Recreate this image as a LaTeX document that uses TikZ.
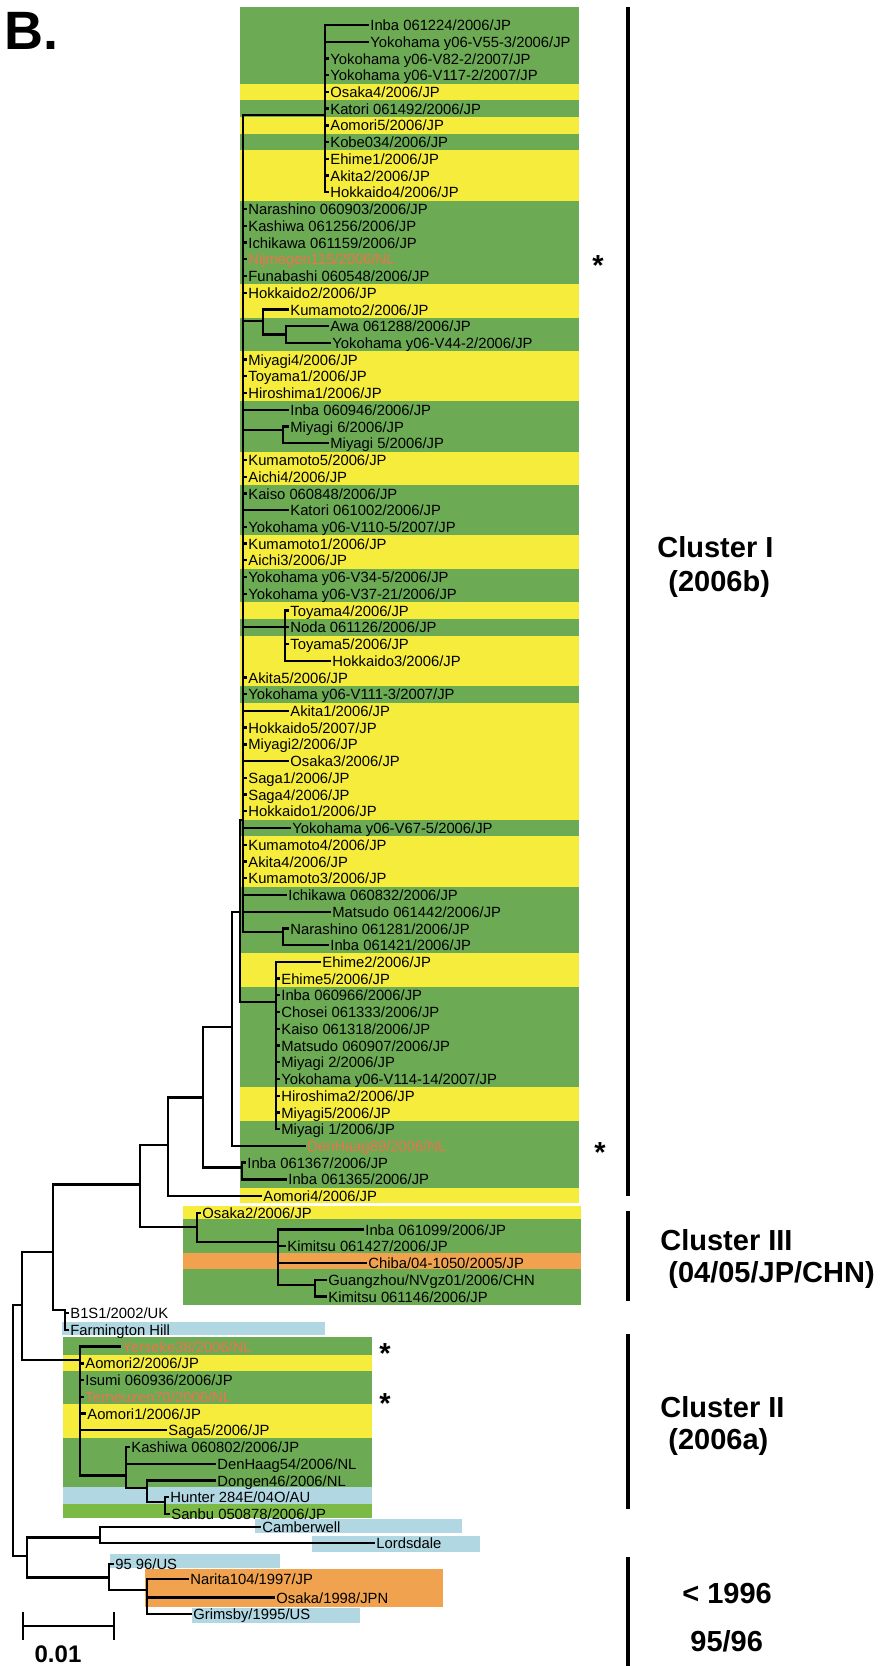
\documentclass[tikz,border=0pt]{standalone}
\usepackage{fontspec}
\setmainfont{Liberation Sans}
\usetikzlibrary{positioning}

\definecolor{clgreen}{RGB}{108,170,84}
\definecolor{clyellow}{RGB}{245,236,60}
\definecolor{clorange}{RGB}{240,162,78}
\definecolor{clblue}{RGB}{176,215,226}
\definecolor{clbright}{RGB}{124,186,70}
\definecolor{nlred}{RGB}{234,116,78}

\begin{document}
\begin{tikzpicture}[
  x=0.5pt, y=-8.365pt,
  leaf/.style={anchor=west, inner xsep=1pt, inner ysep=0pt, text height=5.6pt, text depth=0pt, font=\fontsize{7.4}{8}\selectfont},
  nlleaf/.style={leaf, text=nlred},
  branch/.style={line width=1.15pt, line cap=rect},
  clbar/.style={line width=1.8pt},
  clabel/.style={anchor=base west, inner sep=0pt, font=\fontsize{14.5}{16}\selectfont\bfseries},
  astk/.style={anchor=base, inner sep=0pt, font=\fontsize{14.5}{16}\selectfont\bfseries}
]
\useasboundingbox (0,-0.494) rectangle (882,99.09);

% Cluster I background (rows 1-71)
\fill[clyellow] (240,-0.08) rectangle (579,71.4);
\fill[clgreen] (240,-0.08) rectangle (579,4.5);
\fill[clgreen] (240,5.5) rectangle (579,6.5);
\fill[clgreen] (240,7.5) rectangle (579,8.5);
\fill[clgreen] (240,11.5) rectangle (579,16.5);
\fill[clgreen] (240,18.5) rectangle (579,20.5);
\fill[clgreen] (240,23.5) rectangle (579,26.5);
\fill[clgreen] (240,28.5) rectangle (579,31.5);
\fill[clgreen] (240,33.5) rectangle (579,35.5);
\fill[clgreen] (240,36.5) rectangle (579,37.5);
\fill[clgreen] (240,40.5) rectangle (579,41.5);
\fill[clgreen] (240,48.5) rectangle (579,49.5);
\fill[clgreen] (240,52.5) rectangle (579,56.5);
\fill[clgreen] (240,58.5) rectangle (579,64.5);
\fill[clgreen] (240,66.5) rectangle (579,70.5);

% Cluster III background (rows 72-77)
\fill[clyellow] (183,71.6) rectangle (581,72.35);
\fill[clgreen] (183,72.35) rectangle (581,74.4);
\fill[clorange] (183,74.4) rectangle (581,75.35);
\fill[clgreen] (183,75.35) rectangle (581,77.5);

% Farmington Hill
\fill[clblue] (62,78.5) rectangle (325,79.3);

% Cluster II background (rows 80-90)
\fill[clgreen] (63,79.45) rectangle (372,90.25);
\fill[clyellow] (63,80.5) rectangle (372,81.45);
\fill[clyellow] (63,83.45) rectangle (372,85.45);
\fill[clblue] (63,88.4) rectangle (372,89.4);
\fill[clbright] (63,89.4) rectangle (372,90.25);

% older strains
\fill[clblue] (255,90.3) rectangle (462,91.15);
\fill[clblue] (312,91.3) rectangle (480,92.3);
\fill[clblue] (110,92.4) rectangle (280,93.25);
\fill[clorange] (145,93.3) rectangle (443,95.55);
\fill[clblue] (192,95.6) rectangle (360,96.5);

% Panel letter
\node[anchor=base west, inner sep=0pt, font=\fontsize{27}{30}\selectfont\bfseries] (panel) at (4,2.49) {B.};

% Leaf nodes, Cluster I
\node[leaf] (L1) at (368,1) {Inba 061224/2006/JP};
\node[leaf] (L2) at (368,2) {Yokohama y06-V55-3/2006/JP};
\node[leaf] (L3) at (328,3) {Yokohama y06-V82-2/2007/JP};
\node[leaf] (L4) at (328,4) {Yokohama y06-V117-2/2007/JP};
\node[leaf] (L5) at (328,5) {Osaka4/2006/JP};
\node[leaf] (L6) at (328,6) {Katori 061492/2006/JP};
\node[leaf] (L7) at (328,7) {Aomori5/2006/JP};
\node[leaf] (L8) at (328,8) {Kobe034/2006/JP};
\node[leaf] (L9) at (328,9) {Ehime1/2006/JP};
\node[leaf] (L10) at (328,10) {Akita2/2006/JP};
\node[leaf] (L11) at (328,11) {Hokkaido4/2006/JP};
\node[leaf] (L12) at (246,12) {Narashino 060903/2006/JP};
\node[leaf] (L13) at (246,13) {Kashiwa 061256/2006/JP};
\node[leaf] (L14) at (246,14) {Ichikawa 061159/2006/JP};
\node[nlleaf] (L15) at (246,15) {Nijmegen115/2006/NL};
\node[leaf] (L16) at (246,16) {Funabashi 060548/2006/JP};
\node[leaf] (L17) at (246,17) {Hokkaido2/2006/JP};
\node[leaf] (L18) at (288,18) {Kumamoto2/2006/JP};
\node[leaf] (L19) at (328,19) {Awa 061288/2006/JP};
\node[leaf] (L20) at (330,20) {Yokohama y06-V44-2/2006/JP};
\node[leaf] (L21) at (246,21) {Miyagi4/2006/JP};
\node[leaf] (L22) at (246,22) {Toyama1/2006/JP};
\node[leaf] (L23) at (246,23) {Hiroshima1/2006/JP};
\node[leaf] (L24) at (288,24) {Inba 060946/2006/JP};
\node[leaf] (L25) at (288,25) {Miyagi 6/2006/JP};
\node[leaf] (L26) at (328,26) {Miyagi 5/2006/JP};
\node[leaf] (L27) at (246,27) {Kumamoto5/2006/JP};
\node[leaf] (L28) at (246,28) {Aichi4/2006/JP};
\node[leaf] (L29) at (246,29) {Kaiso 060848/2006/JP};
\node[leaf] (L30) at (288,30) {Katori 061002/2006/JP};
\node[leaf] (L31) at (246,31) {Yokohama y06-V110-5/2007/JP};
\node[leaf] (L32) at (246,32) {Kumamoto1/2006/JP};
\node[leaf] (L33) at (246,33) {Aichi3/2006/JP};
\node[leaf] (L34) at (246,34) {Yokohama y06-V34-5/2006/JP};
\node[leaf] (L35) at (246,35) {Yokohama y06-V37-21/2006/JP};
\node[leaf] (L36) at (288,36) {Toyama4/2006/JP};
\node[leaf] (L37) at (288,37) {Noda 061126/2006/JP};
\node[leaf] (L38) at (288,38) {Toyama5/2006/JP};
\node[leaf] (L39) at (330,39) {Hokkaido3/2006/JP};
\node[leaf] (L40) at (246,40) {Akita5/2006/JP};
\node[leaf] (L41) at (246,41) {Yokohama y06-V111-3/2007/JP};
\node[leaf] (L42) at (288,42) {Akita1/2006/JP};
\node[leaf] (L43) at (246,43) {Hokkaido5/2007/JP};
\node[leaf] (L44) at (246,44) {Miyagi2/2006/JP};
\node[leaf] (L45) at (288,45) {Osaka3/2006/JP};
\node[leaf] (L46) at (246,46) {Saga1/2006/JP};
\node[leaf] (L47) at (246,47) {Saga4/2006/JP};
\node[leaf] (L48) at (246,48) {Hokkaido1/2006/JP};
\node[leaf] (L49) at (290,49) {Yokohama y06-V67-5/2006/JP};
\node[leaf] (L50) at (246,50) {Kumamoto4/2006/JP};
\node[leaf] (L51) at (246,51) {Akita4/2006/JP};
\node[leaf] (L52) at (246,52) {Kumamoto3/2006/JP};
\node[leaf] (L53) at (286,53) {Ichikawa 060832/2006/JP};
\node[leaf] (L54) at (330,54) {Matsudo 061442/2006/JP};
\node[leaf] (L55) at (288,55) {Narashino 061281/2006/JP};
\node[leaf] (L56) at (328,56) {Inba 061421/2006/JP};
\node[leaf] (L57) at (320,57) {Ehime2/2006/JP};
\node[leaf] (L58) at (279,58) {Ehime5/2006/JP};
\node[leaf] (L59) at (279,59) {Inba 060966/2006/JP};
\node[leaf] (L60) at (279,60) {Chosei 061333/2006/JP};
\node[leaf] (L61) at (279,61) {Kaiso 061318/2006/JP};
\node[leaf] (L62) at (279,62) {Matsudo 060907/2006/JP};
\node[leaf] (L63) at (279,63) {Miyagi 2/2006/JP};
\node[leaf] (L64) at (279,64) {Yokohama y06-V114-14/2007/JP};
\node[leaf] (L65) at (279,65) {Hiroshima2/2006/JP};
\node[leaf] (L66) at (279,66) {Miyagi5/2006/JP};
\node[leaf] (L67) at (279,67) {Miyagi 1/2006/JP};
\node[nlleaf] (L68) at (305,68) {DenHaag89/2006/NL};
\node[leaf] (L69) at (245,69) {Inba 061367/2006/JP};
\node[leaf] (L70) at (286,70) {Inba 061365/2006/JP};
\node[leaf] (L71) at (261,71) {Aomori4/2006/JP};

% Leaf nodes, Cluster III
\node[leaf] (L72) at (200,72) {Osaka2/2006/JP};
\node[leaf] (L73) at (363,73) {Inba 061099/2006/JP};
\node[leaf] (L74) at (285,74) {Kimitsu 061427/2006/JP};
\node[leaf] (L75) at (366,75) {Chiba/04-1050/2005/JP};
\node[leaf] (L76) at (326,76) {Guangzhou/NVgz01/2006/CHN};
\node[leaf] (L77) at (326,77) {Kimitsu 061146/2006/JP};

% Leaf nodes, B1S1 and Cluster II
\node[leaf] (L78) at (68,78) {B1S1/2002/UK};
\node[leaf] (L79) at (68,79) {Farmington Hill};
\node[nlleaf] (L80) at (120,80) {Yerseke38/2006/NL};
\node[leaf] (L81) at (83,81) {Aomori2/2006/JP};
\node[leaf] (L82) at (83,82) {Isumi 060936/2006/JP};
\node[nlleaf] (L83) at (83,83) {Terneuzen70/2006/NL};
\node[leaf] (L84) at (85,84) {Aomori1/2006/JP};
\node[leaf] (L85) at (166,85) {Saga5/2006/JP};
\node[leaf] (L86) at (129,86) {Kashiwa 060802/2006/JP};
\node[leaf] (L87) at (215,87) {DenHaag54/2006/NL};
\node[leaf] (L88) at (215,88) {Dongen46/2006/NL};
\node[leaf] (L89) at (168,89) {Hunter 284E/04O/AU};
\node[leaf] (L90) at (169,90) {Sanbu 050878/2006/JP};

% Leaf nodes, older strains
\node[leaf] (L91) at (260,90.8) {Camberwell};
\node[leaf] (L92) at (374,91.75) {Lordsdale};
\node[leaf] (L93) at (113,93) {95 96/US};
\node[leaf] (L94) at (188,93.9) {Narita104/1997/JP};
\node[leaf] (L95) at (274,95) {Osaka/1998/JPN};
\node[leaf] (L96) at (191,96) {Grimsby/1995/US};

% Internal nodes (x of the vertical, y where the parent joins)
\coordinate (r0) at (13,77.5);
\coordinate (n22) at (22,77.5);
\coordinate (n53) at (53,74.35);
\coordinate (nB1) at (65,77.8);
\coordinate (n140) at (140,70.3);
\coordinate (n168) at (168,67.95);
\coordinate (n203) at (203,65.1);
\coordinate (n232) at (232,60.9);
\coordinate (n240) at (240,54.0);
\coordinate (nA) at (243,48.5);
\coordinate (nT) at (325,6.4);
\coordinate (nK) at (263,18.7);
\coordinate (nK2) at (286,19.5);
\coordinate (nM) at (283,25.2);
\coordinate (nTo) at (285,37.0);
\coordinate (nN) at (283,55.2);
\coordinate (nE) at (276,59.4);
\coordinate (n242) at (242,69.3);
\coordinate (nC3) at (197,72.85);
\coordinate (nC3b) at (278,73.75);
\coordinate (nG) at (315,76.3);
\coordinate (nC2) at (80,80.8);
\coordinate (nD) at (126,87.7);
\coordinate (nDo) at (147,88.45);
\coordinate (nH) at (165,89.3);
\coordinate (n27) at (27,92.5);
\coordinate (nCL) at (100,91.4);
\coordinate (nU) at (109,93.8);
\coordinate (nN3) at (147,94.55);

% --- root and backbone ---
\draw[branch] (r0) |- (n22) (r0) |- (n27);
\draw[branch] (n22) |- (n53) (n22) |- (nC2);
\draw[branch] (n53) |- (n140) (n53) |- (nB1);
\draw[branch] (nB1) |- (L78.west) (nB1) |- (L79.west);
\draw[branch] (n140) |- (n168) (n140) |- (nC3);
\draw[branch] (n168) |- (n203) (n168) |- (L71.west);
\draw[branch] (n203) |- (n232) (n203) |- (n242);
\draw[branch] (n242) |- (L69.west) (n242) |- (L70.west);
\draw[branch] (n232) |- (n240) (n232) |- (L68.west);
\draw[branch] (n240) |- (nA) (n240) |- (nE);

% --- Cluster I, main comb ---
\draw[branch] (nA) |- (nT) (nA) |- (nK) (nA) |- (nM) (nA) |- (nTo) (nA) |- (nN);
\draw[branch] (nA) |- (L12.west) (nA) |- (L13.west) (nA) |- (L14.west)
  (nA) |- (L15.west) (nA) |- (L16.west) (nA) |- (L17.west);
\draw[branch] (nA) |- (L21.west) (nA) |- (L22.west) (nA) |- (L23.west) (nA) |- (L24.west);
\draw[branch] (nA) |- (L27.west) (nA) |- (L28.west) (nA) |- (L29.west) (nA) |- (L30.west);
\draw[branch] (nA) |- (L31.west) (nA) |- (L32.west) (nA) |- (L33.west)
  (nA) |- (L34.west) (nA) |- (L35.west);
\draw[branch] (nA) |- (L40.west) (nA) |- (L41.west) (nA) |- (L42.west)
  (nA) |- (L43.west) (nA) |- (L44.west) (nA) |- (L45.west);
\draw[branch] (nA) |- (L46.west) (nA) |- (L47.west) (nA) |- (L48.west) (nA) |- (L49.west);
\draw[branch] (nA) |- (L50.west) (nA) |- (L51.west) (nA) |- (L52.west)
  (nA) |- (L53.west) (nA) |- (L54.west);

% --- Cluster I, small clades ---
\draw[branch] (nT) |- (L1.west) (nT) |- (L2.west) (nT) |- (L3.west) (nT) |- (L4.west)
  (nT) |- (L5.west) (nT) |- (L6.west) (nT) |- (L7.west) (nT) |- (L8.west)
  (nT) |- (L9.west) (nT) |- (L10.west) (nT) |- (L11.west);
\draw[branch] (nK) |- (L18.west) (nK) |- (nK2);
\draw[branch] (nK2) |- (L19.west) (nK2) |- (L20.west);
\draw[branch] (nM) |- (L25.west) (nM) |- (L26.west);
\draw[branch] (nTo) |- (L36.west) (nTo) |- (L37.west) (nTo) |- (L38.west) (nTo) |- (L39.west);
\draw[branch] (nN) |- (L55.west) (nN) |- (L56.west);
\draw[branch] (nE) |- (L57.west) (nE) |- (L58.west) (nE) |- (L59.west) (nE) |- (L60.west)
  (nE) |- (L61.west) (nE) |- (L62.west) (nE) |- (L63.west) (nE) |- (L64.west)
  (nE) |- (L65.west) (nE) |- (L66.west) (nE) |- (L67.west);

% --- Cluster III ---
\draw[branch] (nC3) |- (L72.west) (nC3) |- (nC3b);
\draw[branch] (nC3b) |- (L73.west) (nC3b) |- (L74.west) (nC3b) |- (L75.west) (nC3b) |- (nG);
\draw[branch] (nG) |- (L76.west) (nG) |- (L77.west);

% --- Cluster II ---
\draw[branch] (nC2) |- (L80.west) (nC2) |- (L81.west) (nC2) |- (L82.west) (nC2) |- (L83.west)
  (nC2) |- (L84.west) (nC2) |- (L85.west) (nC2) |- (nD);
\draw[branch] (nD) |- (L86.west) (nD) |- (L87.west) (nD) |- (nDo);
\draw[branch] (nDo) |- (L88.west) (nDo) |- (nH);
\draw[branch] (nH) |- (L89.west) (nH) |- (L90.west);

% --- older strains ---
\draw[branch] (n27) |- (nCL) (n27) |- (nU);
\draw[branch] (nCL) |- (L91.west) (nCL) |- (L92.west);
\draw[branch] (nU) |- (L93.west) (nU) |- (nN3);
\draw[branch] (nN3) |- (L94.west) (nN3) |- (L95.west) (nN3) |- (L96.west);

% Asterisks
\node[astk] (s1) at (598,16.0) {*};
\node[astk] (s2) at (600,69.0) {*};
\node[astk] (s3) at (385,81.0) {*};
\node[astk] (s4) at (385,84.0) {*};

% Cluster bars
\coordinate (cIt) at (628,-0.08);
\coordinate (cIb) at (628,71.0);
\coordinate (cIIIt) at (628,71.9);
\coordinate (cIIIb) at (628,77.3);
\coordinate (cIIt) at (628,79.24);
\coordinate (cIIb) at (628,89.7);
\coordinate (cOt) at (628,92.57);
\coordinate (cOb) at (628,99.09);
\draw[clbar] (cIt) -- (cIb);
\draw[clbar] (cIIIt) -- (cIIIb);
\draw[clbar] (cIIt) -- (cIIb);
\draw[clbar] (cOt) -- (cOb);

% Cluster labels
\node[clabel] (cI) at (657,32.8) {Cluster I};
\node[clabel] (cIy) at ([xshift=5.5pt,yshift=-17pt]cI.base west) {(2006b)};
\node[clabel] (cIII) at (660,74.28) {Cluster III};
\node[clabel] (cIIIy) at ([xshift=4pt,yshift=-16pt]cIII.base west) {(04/05/JP/CHN)};
\node[clabel] (cII) at (660,84.26) {Cluster II};
\node[clabel] (cIIy) at ([xshift=4pt,yshift=-16pt]cII.base west) {(2006a)};
\node[clabel] (cO) at (682,95.38) {< 1996};
\node[clabel] (cOy) at ([xshift=4pt,yshift=-24pt]cO.base west) {95/96};

% Scale bar
\coordinate (sbL) at (23,96.7);
\coordinate (sbR) at (114,96.7);
\coordinate (sbLt) at (23,95.95);
\coordinate (sbLb) at (23,97.45);
\coordinate (sbRt) at (114,95.95);
\coordinate (sbRb) at (114,97.45);
\draw[branch] (sbL) -- (sbR);
\draw[branch] (sbLt) -- (sbLb);
\draw[branch] (sbRt) -- (sbRb);
\node[inner sep=0pt, font=\fontsize{12}{14}\selectfont\bfseries] (sblab) at (58,98.37) {0.01};

\end{tikzpicture}
\end{document}
